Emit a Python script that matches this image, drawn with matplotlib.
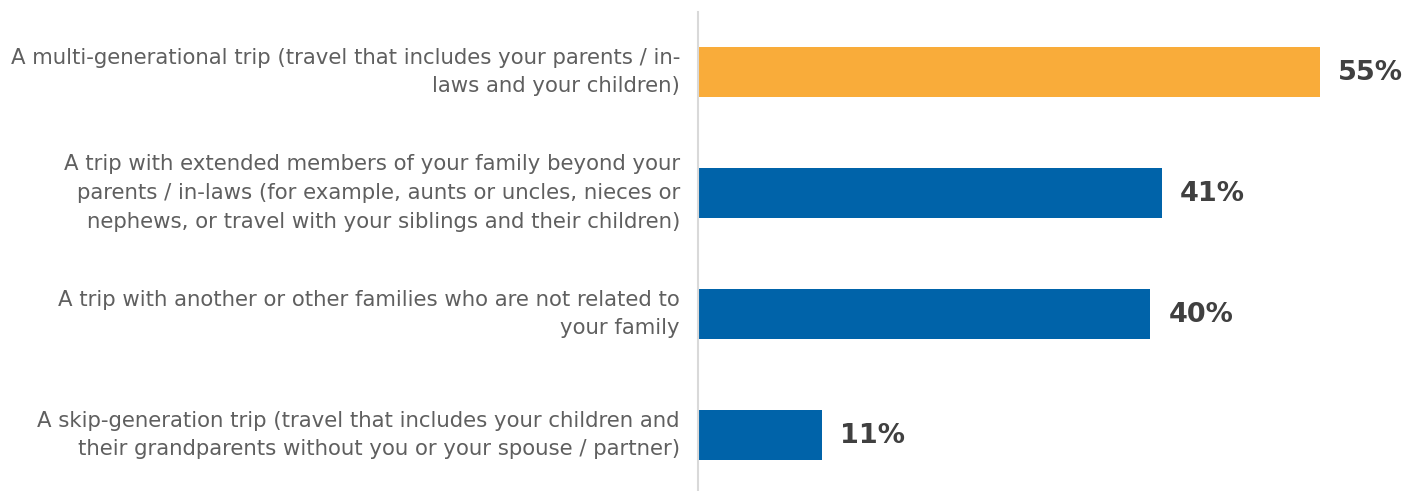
import matplotlib
matplotlib.use("Agg")
import matplotlib.pyplot as plt

categories = [
    "A multi-generational trip (travel that includes your parents / in-\nlaws and your children)",
    "A trip with extended members of your family beyond your\nparents / in-laws (for example, aunts or uncles, nieces or\nnephews, or travel with your siblings and their children)",
    "A trip with another or other families who are not related to\nyour family",
    "A skip-generation trip (travel that includes your children and\ntheir grandparents without you or your spouse / partner)",
]
values = [55, 41, 40, 11]
colors = ["#F9AC3A", "#0063A9", "#0063A9", "#0063A9"]

W, H, DPI = 1420, 491, 100
fig = plt.figure(figsize=(W / DPI, H / DPI), dpi=DPI)
left_px = 698
ax = fig.add_axes([left_px / W, 0, 1 - left_px / W, 1 - 12 / H])

px_per_unit = 11.31
ax.set_xlim(0, (W - left_px) / px_per_unit)
spacing = 121.0
top_units = 60 / spacing
bottom_units = (491 - 12 - 60 - 3 * spacing) / spacing
ax.set_ylim(3 + bottom_units, -top_units)

pos = list(range(len(values)))
ax.barh(pos, values, height=50 / spacing, color=colors, edgecolor="none")

for y, v in zip(pos, values):
    ax.annotate(f"{v}%", xy=(v, y), xytext=(13, -1), textcoords="offset points",
                ha="left", va="center", fontsize=19.5, fontweight="bold",
                color="#404040", family="DejaVu Sans")

# category labels to the left of the axis line
for y, label in zip(pos, categories):
    ax.annotate(label, xy=(0, y), xytext=(-13, 0), textcoords="offset points",
                ha="right", va="center", fontsize=15.3, color="#5F5F5F",
                family="DejaVu Sans", linespacing=1.55, annotation_clip=False)

ax.set_yticks([])
ax.set_xticks([])

for s in ["top", "right", "bottom"]:
    ax.spines[s].set_visible(False)
ax.spines["left"].set_color("#D9D9D9")
ax.spines["left"].set_linewidth(1.5)

fig.savefig("out.png", dpi=DPI, facecolor="white")
